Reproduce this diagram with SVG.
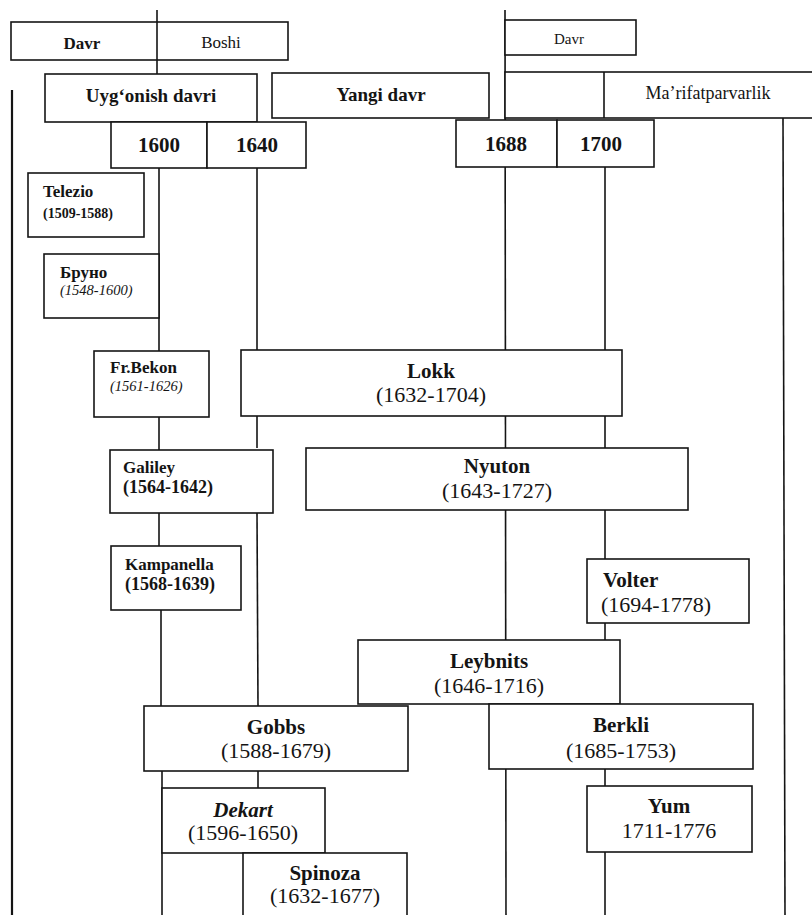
<svg xmlns="http://www.w3.org/2000/svg" width="812" height="915" viewBox="0 0 812 915">
<style>
.box{fill:#fff;stroke:#141414;stroke-width:1.6}
.ln{stroke:#141414;stroke-width:1.6;fill:none}
text{font-family:"Liberation Serif","Times New Roman",serif;fill:#141414}
.c{text-anchor:middle}
.b{font-weight:bold}
.i{font-style:italic}
.nm{font-size:21px;font-weight:bold}
.yr{font-size:22px}
</style>
<rect width="812" height="915" fill="#fff"/>
<g id="connectors">
<line class="ln" x1="12" y1="90" x2="12" y2="915" style="stroke-width:2.2"/>
<line class="ln" x1="157" y1="10" x2="157" y2="74"/>
<line class="ln" x1="159" y1="168" x2="159" y2="351"/>
<line class="ln" x1="159" y1="417" x2="159" y2="450"/>
<line class="ln" x1="159" y1="513" x2="159" y2="546"/>
<line class="ln" x1="161" y1="610" x2="161" y2="706"/>
<line class="ln" x1="162" y1="771" x2="162" y2="915"/>
<line class="ln" x1="257" y1="168" x2="257" y2="350"/>
<line class="ln" x1="257" y1="416" x2="257" y2="448"/>
<line class="ln" x1="257" y1="513" x2="258" y2="706"/>
<line class="ln" x1="258" y1="771" x2="258" y2="788"/>
<line class="ln" x1="505" y1="10" x2="506" y2="915"/>
<line class="ln" x1="605" y1="167" x2="605" y2="915"/>
<line class="ln" x1="783" y1="118" x2="785" y2="915"/>
</g>
<g id="hdr-davr-boshi">
<rect class="box" x="11" y="22" width="277" height="38"/>
<line class="ln" x1="157" y1="22" x2="157" y2="60"/>
<text class="b c" x="82" y="49" font-size="17">Davr</text>
<text class="c" x="221" y="48" font-size="17">Boshi</text>
</g>
<g id="hdr-davr">
<rect class="box" x="505" y="20" width="131" height="35"/>
<text class="c" x="569" y="44" font-size="15">Davr</text>
</g>
<g id="era-uygonish">
<rect class="box" x="45" y="74" width="212" height="48"/>
<text class="b c" x="151" y="102" font-size="19">Uyg‘onish davri</text>
</g>
<g id="era-yangi">
<rect class="box" x="272" y="73" width="217" height="45"/>
<text class="b c" x="381" y="101" font-size="19">Yangi davr</text>
</g>
<g id="era-marifat">
<rect class="box" x="505" y="72" width="310" height="46"/>
<line class="ln" x1="604" y1="72" x2="604" y2="118"/>
<text class="c" x="708" y="99" font-size="18">Ma’rifatparvarlik</text>
</g>
<g id="y1600">
<rect class="box" x="111" y="122" width="96" height="46"/>
<text class="b c" x="159" y="152" font-size="21">1600</text>
</g>
<g id="y1640">
<rect class="box" x="207" y="122" width="99" height="46"/>
<text class="b c" x="257" y="152" font-size="21">1640</text>
</g>
<g id="y1688">
<rect class="box" x="456" y="120" width="101" height="47"/>
<text class="b c" x="506" y="151" font-size="21">1688</text>
</g>
<g id="y1700">
<rect class="box" x="557" y="120" width="97" height="47"/>
<text class="b c" x="601" y="151" font-size="21">1700</text>
</g>
<g id="telezio">
<rect class="box" x="28" y="173" width="116" height="64"/>
<text class="b" x="43" y="197" font-size="17">Telezio</text>
<text class="b" x="43" y="218" font-size="14">(1509-1588)</text>
</g>
<g id="bruno">
<rect class="box" x="44" y="254" width="115" height="64"/>
<text class="b" x="60" y="278" font-size="17">Бруно</text>
<text class="i" x="60" y="295" font-size="14.5">(1548-1600)</text>
</g>
<g id="bekon">
<rect class="box" x="94" y="351" width="115" height="66"/>
<text class="b" x="110" y="373" font-size="17">Fr.Bekon</text>
<text class="i" x="110" y="391" font-size="14.5">(1561-1626)</text>
</g>
<g id="lokk">
<rect class="box" x="241" y="350" width="381" height="66"/>
<text class="nm c" x="431" y="378">Lokk</text>
<text class="yr c" x="431" y="402">(1632-1704)</text>
</g>
<g id="galiley">
<rect class="box" x="110" y="450" width="163" height="63"/>
<text class="b" x="123" y="473" font-size="17">Galiley</text>
<text class="b" x="123" y="493" font-size="18">(1564-1642)</text>
</g>
<g id="nyuton">
<rect class="box" x="306" y="448" width="382" height="62"/>
<text class="nm c" x="497" y="473">Nyuton</text>
<text class="yr c" x="497" y="498">(1643-1727)</text>
</g>
<g id="kampanella">
<rect class="box" x="111" y="546" width="130" height="64"/>
<text class="b" x="125" y="570" font-size="17">Kampanella</text>
<text class="b" x="125" y="590" font-size="18">(1568-1639)</text>
</g>
<g id="volter">
<rect class="box" x="587" y="559" width="162" height="64"/>
<text class="nm" x="603" y="587">Volter</text>
<text class="yr" x="601" y="612">(1694-1778)</text>
</g>
<g id="leybnits">
<rect class="box" x="358" y="640" width="262" height="64"/>
<text class="nm c" x="489" y="668">Leybnits</text>
<text class="yr c" x="489" y="693">(1646-1716)</text>
</g>
<g id="gobbs">
<rect class="box" x="144" y="706" width="264" height="65"/>
<text class="nm c" x="276" y="734">Gobbs</text>
<text class="yr c" x="276" y="758">(1588-1679)</text>
</g>
<g id="berkli">
<rect class="box" x="489" y="704" width="264" height="65"/>
<text class="nm c" x="621" y="732">Berkli</text>
<text class="yr c" x="621" y="758">(1685-1753)</text>
</g>
<g id="dekart">
<rect class="box" x="162" y="788" width="163" height="65"/>
<text class="nm i c" x="243" y="817">Dekart</text>
<text class="yr c" x="243" y="840">(1596-1650)</text>
</g>
<g id="yum">
<rect class="box" x="587" y="786" width="165" height="66"/>
<text class="nm c" x="669" y="813">Yum</text>
<text class="yr c" x="669" y="838">1711-1776</text>
</g>
<g id="spinoza">
<rect class="box" x="243" y="853" width="164" height="70"/>
<text class="nm c" x="325" y="880">Spinoza</text>
<text class="yr c" x="325" y="903">(1632-1677)</text>
</g>
</svg>
